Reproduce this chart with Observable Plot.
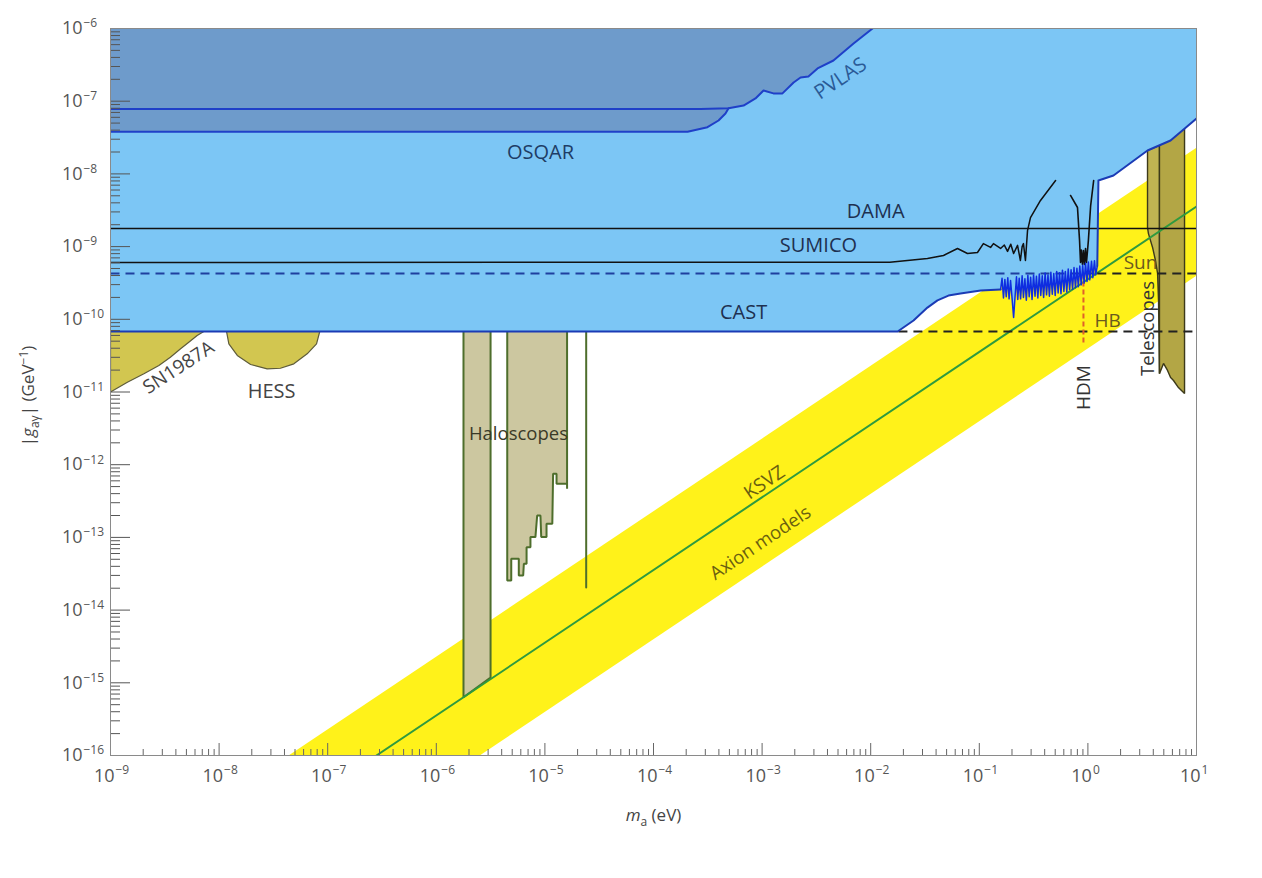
<!DOCTYPE html>
<html><head><meta charset="utf-8">
<script src="https://cdn.jsdelivr.net/npm/d3@7"></script>
<script src="https://cdn.jsdelivr.net/npm/@observablehq/plot@0.6"></script>
<style>
body{margin:0;background:#fff;}
#chart svg{display:block;}
</style></head><body><div id="chart"></div>
<script>
// ---- tick exponents ----
const xTickExponents = [-9,-8,-7,-6,-5,-4,-3,-2,-1,0,1];
const yTickExponents = [-16,-15,-14,-13,-12,-11,-10,-9,-8,-7,-6];

// ---- regions / limits: [mass (eV), |g| (GeV^-1)] ----
const axionBand = [[4.36e-8,1e-16],[10,2.30e-8],[10,3.98e-10],[2.51e-6,1e-16]];
const ksvz = [[2.81e-7,1e-16],[10,3.56e-9]];

const castSmooth = [[1e-9,6.8e-11],[1.77e-2,6.8e-11],[2.48e-2,9.62e-11],[3.33e-2,1.45e-10],[4.12e-2,1.82e-10],[5.20e-2,2.12e-10],[6.71e-2,2.26e-10],[1.03e-1,2.49e-10],[1.57e-1,2.57e-10]];
const castNoise = [[0.157,2.57e-10],[0.162,3.66e-10],[0.167,1.96e-10],[0.172,3.54e-10],[0.177,2.04e-10],[0.183,3.72e-10],[0.188,1.91e-10],[0.194,3.42e-10],[0.200,2.00e-10],[0.207,1.06e-10],[0.213,1.96e-10],[0.220,3.84e-10],[0.226,1.87e-10],[0.233,3.66e-10],[0.240,1.91e-10],[0.248,3.96e-10],[0.255,2.00e-10],[0.263,3.60e-10],[0.271,1.83e-10],[0.280,4.02e-10],[0.288,2.04e-10],[0.297,3.78e-10],[0.306,1.87e-10],[0.316,4.08e-10],[0.326,2.08e-10],[0.336,3.90e-10],[0.346,1.96e-10],[0.357,4.20e-10],[0.368,2.13e-10],[0.380,3.96e-10],[0.391,2.00e-10],[0.404,4.32e-10],[0.416,2.17e-10],[0.429,4.08e-10],[0.442,2.08e-10],[0.456,4.44e-10],[0.470,2.21e-10],[0.485,4.26e-10],[0.500,2.13e-10],[0.516,4.56e-10],[0.532,2.30e-10],[0.548,4.38e-10],[0.565,2.25e-10],[0.583,4.74e-10],[0.601,2.42e-10],[0.620,4.56e-10],[0.639,2.38e-10],[0.659,4.92e-10],[0.679,2.55e-10],[0.700,4.80e-10],[0.722,2.59e-10],[0.745,5.16e-10],[0.768,2.72e-10],[0.792,5.04e-10],[0.816,2.81e-10],[0.842,5.40e-10],[0.868,2.98e-10],[0.895,5.52e-10],[0.923,3.15e-10],[0.951,5.88e-10],[0.981,3.32e-10],[1.01,6.12e-10],[1.04,3.49e-10],[1.08,6.30e-10],[1.11,3.74e-10],[1.15,6.40e-10],[1.18,4.08e-10],[1.22,5.40e-10]];
const castHigh = [[1.22,5.40e-10],[1.25,8.11e-9],[1.72,9.51e-9],[3.54,2.10e-8],[5.77,2.88e-8],[10,5.78e-8]];

const osqar = [[1e-9,3.8e-8],[2.06e-4,3.8e-8],[3.14e-4,4.39e-8],[3.97e-4,5.43e-8],[4.60e-4,6.78e-8],[4.91e-4,8.0e-8]];
const pvlas = [[1e-9,7.8e-8],[2.71e-4,7.8e-8],[4.91e-4,8.0e-8],[6.75e-4,8.71e-8],[8.69e-4,1.09e-7],[1.03e-3,1.40e-7],[1.27e-3,1.28e-7],[1.54e-3,1.28e-7],[1.95e-3,1.81e-7],[2.26e-3,2.12e-7],[2.67e-3,2.19e-7],[3.24e-3,2.82e-7],[4.54e-3,3.63e-7],[6.95e-3,6.22e-7],[1.04e-2,1e-6]];

const dama = [[1e-9,1.77e-9],[10,1.77e-9]];
const sumico = [[1e-9,6.04e-10],[1.5e-2,6.1e-10],[3.33e-2,6.85e-10],[4.68e-2,7.55e-10],[6.30e-2,9.42e-10],[7.78e-2,8.04e-10],[9.62e-2,8.30e-10],[1.09e-1,1.10e-9],[1.27e-1,9.73e-10],[1.35e-1,1.10e-9],[1.57e-1,9.42e-10],[1.70e-1,1.05e-9],[1.82e-1,8.6e-10],[1.95e-1,1.08e-9],[2.07e-1,8.04e-10],[2.25e-1,1.04e-9],[2.39e-1,6.44e-10],[2.48e-1,1.0e-9],[2.55e-1,1.10e-9],[2.66e-1,6.44e-10],[2.78e-1,1.66e-9],[2.96e-1,2.51e-9],[3.66e-1,4.31e-9],[5.04e-1,8.11e-9]];
const sumicoHigh = [[6.92e-1,5.05e-9],[8.02e-1,3.45e-9],[8.38e-1,1.21e-9],[8.55e-1,6.04e-10],[8.70e-1,9.0e-10],[8.91e-1,5.7e-10],[9.10e-1,8.8e-10],[9.30e-1,5.68e-10],[9.51e-1,9.42e-10],[9.70e-1,6.04e-10],[9.90e-1,8.5e-10],[1.01,1.21e-9],[1.06,3.67e-9],[1.13,8.11e-9]];

const sunBlue = [[1e-9,4.27e-10],[1.22,4.27e-10]];
const sunBlack = [[1.22,4.27e-10],[10,4.27e-10]];
const hb = [[1.8e-2,6.8e-11],[10,6.8e-11]];
const hdm = [[0.91,4.27e-10],[0.91,4.6e-11]];

const sn1987a = [[1e-9,6.8e-11],[1e-9,1.0e-11],[1.43e-9,1.36e-11],[2.03e-9,1.78e-11],[2.79e-9,2.32e-11],[3.56e-9,3.01e-11],[4.42e-9,3.93e-11],[5.26e-9,4.84e-11],[6.28e-9,5.98e-11],[7.23e-9,6.8e-11]];
const hess = [[1.17e-8,6.8e-11],[1.23e-8,4.60e-11],[1.47e-8,3.18e-11],[1.95e-8,2.39e-11],[2.77e-8,2.08e-11],[3.67e-8,2.12e-11],[4.88e-8,2.44e-11],[6.47e-8,3.35e-11],[7.89e-8,4.60e-11],[8.45e-8,6.8e-11]];

const haloscopeA = [[1.78e-6,6.8e-11],[1.78e-6,6.32e-16],[3.16e-6,1.18e-15],[3.16e-6,6.8e-11]];
const haloscopeB = [[4.50e-6,6.8e-11],[4.50e-6,2.55e-14],[4.90e-6,2.55e-14],[4.90e-6,5.08e-14],[5.75e-6,5.08e-14],[5.75e-6,2.99e-14],[6.31e-6,2.99e-14],[6.40e-6,4.34e-14],[6.78e-6,4.34e-14],[6.78e-6,7.33e-14],[7.36e-6,7.33e-14],[7.36e-6,1.01e-13],[8.18e-6,1.01e-13],[8.49e-6,2.00e-13],[9.10e-6,2.00e-13],[9.25e-6,1.01e-13],[1.035e-5,1.01e-13],[1.035e-5,1.54e-13],[1.17e-5,1.54e-13],[1.19e-5,7.50e-13],[1.28e-5,7.50e-13],[1.28e-5,5.46e-13],[1.60e-5,5.46e-13],[1.60e-5,4.66e-13],[1.60e-5,6.8e-11]];
const haloscopeC = [[2.40e-5,6.8e-11],[2.40e-5,2.05e-14]];

const telescopesA = [[3.54,2.10e-8],[3.54,1.83e-9],[3.61,1.51e-9],[3.94,9.73e-10],[4.19,6.44e-10],[4.38,4.27e-10],[4.47,1.82e-10],[4.56,1.79e-11],[4.56,2.47e-8],[3.54,2.10e-8]];
const telescopesB = [[4.56,2.47e-8],[4.56,1.79e-11],[4.97,2.47e-11],[5.41,1.98e-11],[5.77,1.58e-11],[6.14,1.44e-11],[6.82,1.15e-11],[7.76,9.5e-12],[7.76,4.21e-8],[4.56,2.47e-8]];

const labels = [
  {text:"PVLAS", m:5.27e-3, g:2.05e-7, angle:-34, color:"#2a5a96", size:20},
  {text:"OSQAR", m:9.10e-6, g:1.97e-8, angle:0, color:"#1e3d66", size:20},
  {text:"DAMA", m:1.11e-2, g:3.04e-9, angle:0, color:"#1e3050", size:20},
  {text:"SUMICO", m:3.30e-3, g:1.04e-9, angle:0, color:"#1e3050", size:20},
  {text:"CAST", m:6.75e-4, g:1.24e-10, angle:0, color:"#1e3050", size:20},
  {text:"Sun", m:3.05, g:6.04e-10, angle:0, color:"#6a5a1e", size:19},
  {text:"HB", m:1.52, g:9.6e-11, angle:0, color:"#6a5a1e", size:19},
  {text:"HDM", m:0.912, g:1.15e-11, angle:-90, color:"#333333", size:19},
  {text:"Telescopes", m:3.61, g:7.48e-11, angle:-90, color:"#333333", size:18.5},
  {text:"SN1987A", m:4.23e-9, g:2.17e-11, angle:-33, color:"#444444", size:19},
  {text:"HESS", m:3.04e-8, g:1.02e-11, angle:0, color:"#444444", size:20},
  {text:"Haloscopes", m:5.71e-6, g:2.60e-12, angle:0, color:"#3a3a28", size:18.5},
  {text:"KSVZ", m:1.05e-3, g:5.69e-13, angle:-34, color:"#6a6010", size:19},
  {text:"Axion models", m:9.66e-4, g:8.36e-14, angle:-34, color:"#6a6010", size:18.5}
];

const yTitle = "|gaγ| (GeV−1)";
const xTitle = "ma (eV)";

// ---- helpers ----
const P = {x: d => d[0], y: d => d[1], clip: true};
const poly = (data, fill, stroke = "none", strokeWidth = 1) =>
  Plot.line(data, {...P, fill, stroke, strokeWidth, strokeLinejoin: "miter"});
const path = (data, stroke, strokeWidth, extra = {}) =>
  Plot.line(data, {...P, stroke, strokeWidth, ...extra});

const isDecade = v => Math.abs(Math.log10(v) - Math.round(Math.log10(v))) < 1e-9;
const xMinor = d3.scaleLog().domain([1e-9, 10]).ticks(40).filter(v => !isDecade(v));
const yMinor = d3.scaleLog().domain([1e-16, 1e-6]).ticks(40).filter(v => !isDecade(v));
const supers = e => (e < 0 ? "−" : "") + Math.abs(e);

const font = "'Open Sans', sans-serif";
const tickGray = "#555";

const plot = Plot.plot({
  width: 1262, height: 878,
  marginTop: 28, marginRight: 66, marginBottom: 123, marginLeft: 110,
  x: {type: "log", domain: [1e-9, 10]},
  y: {type: "log", domain: [1e-16, 1e-6]},
  color: {type: "identity"},
  style: {fontFamily: font, background: "white"},
  marks: [
    poly(axionBand, "#fff21a"),
    poly(sn1987a, "#d2c650", "#5e5c3a", 1.2),
    poly(hess, "#d2c650", "#5e5c3a", 1.2),
    poly(haloscopeA, "#ccc7a0", "#4e6e2c", 2),
    poly(haloscopeB, "#ccc7a0", "#4e6e2c", 2),
    path(haloscopeC, "#4e6e2c", 2),
    poly(telescopesA, "#c0b452", "#3d3a1a", 1.4),
    poly(telescopesB, "#b3a645", "#3d3a1a", 1.4),
    path(ksvz, "#2f9a3f", 2),
    poly([...castSmooth, ...castNoise, ...castHigh, [10,1e-6], [1e-9,1e-6]], "#7cc6f5"),
    poly([[1e-9,1e-6], ...osqar, ...pvlas.slice(3)], "#6e9bcb"),
    path(dama, "#111", 1.5),
    path(sumico, "#111", 1.5),
    path(sumicoHigh, "#111", 1.6),
    path(sunBlue, "#1f3f9f", 2, {strokeDasharray: "9,6", strokeLinecap: "butt"}),
    path(sunBlack, "#222", 2, {strokeDasharray: "9,6", strokeLinecap: "butt"}),
    path(hb, "#222", 2, {strokeDasharray: "9,6", strokeLinecap: "butt"}),
    path(hdm, "#e0602a", 2, {strokeDasharray: "5,3", strokeLinecap: "butt"}),
    path(castSmooth, "#1b3bb5", 2),
    path(castNoise, "#0f2de0", 1.5),
    path(castHigh, "#1b3bb5", 2),
    path(osqar, "#1f40c8", 2),
    path(pvlas, "#1f40c8", 2),
    Plot.text(labels, {x: "m", y: "g", text: "text", rotate: "angle", fill: "color", fontSize: "size",
      fontFamily: font, textAnchor: "middle", lineAnchor: "middle"}),
    // axes ticks
    Plot.axisX(xMinor, {anchor: "bottom", tickSize: -6, tickFormat: () => "", stroke: "#666", label: null}),
    Plot.axisX(xTickExponents.map(e => 10 ** e), {anchor: "bottom", tickSize: -12, tickFormat: () => "", stroke: "#666", label: null}),
    Plot.axisY(yMinor, {anchor: "left", tickSize: -10, tickFormat: () => "", stroke: "#555", label: null}),
    Plot.axisY(yTickExponents.map(e => 10 ** e), {anchor: "left", tickSize: -20, tickFormat: () => "", stroke: "#555", label: null}),
    // tick labels
    Plot.text(xTickExponents, {x: e => 10 ** e, frameAnchor: "bottom", text: () => "10", dy: 21, dx: 4,
      textAnchor: "end", lineAnchor: "middle", fontSize: 18, fill: tickGray, fontFamily: font}),
    Plot.text(xTickExponents, {x: e => 10 ** e, frameAnchor: "bottom", text: supers, dy: 15, dx: 5,
      textAnchor: "start", lineAnchor: "middle", fontSize: 12, fill: tickGray, fontFamily: font}),
    Plot.text(yTickExponents, {y: e => 10 ** e, frameAnchor: "left", text: () => "10", dx: -28,
      textAnchor: "end", lineAnchor: "middle", fontSize: 18, fill: tickGray, fontFamily: font}),
    Plot.text(yTickExponents, {y: e => 10 ** e, frameAnchor: "left", text: supers, dx: -27, dy: -5,
      textAnchor: "start", lineAnchor: "middle", fontSize: 12, fill: tickGray, fontFamily: font}),
    // axis titles
    Plot.text([yTitle], {frameAnchor: "left", dx: -82, dy: 4, rotate: -90, text: d => d,
      textAnchor: "middle", lineAnchor: "middle", fontSize: 17, fill: "#444", fontFamily: font}),
    Plot.text([xTitle], {frameAnchor: "bottom", dy: 60, text: d => d,
      textAnchor: "middle", lineAnchor: "middle", fontSize: 17, fill: "#444", fontFamily: font}),
    Plot.frame({stroke: "#8a8a8a", strokeWidth: 1})
  ]
});

// rich formatting for axis titles (italic, sub/superscripts)
d3.select(plot).selectAll("text").each(function() {
  const t = this.textContent;
  if (t === yTitle) {
    const s = d3.select(this); s.text("");
    s.append("tspan").text("|");
    s.append("tspan").attr("font-style", "italic").text("g");
    s.append("tspan").attr("font-size", 12).attr("dy", 5).text("aγ");
    s.append("tspan").attr("dy", -5).text("| (GeV");
    s.append("tspan").attr("font-size", 12).attr("dy", -6).text("−1");
    s.append("tspan").attr("dy", 6).text(")");
  } else if (t === xTitle) {
    const s = d3.select(this); s.text("");
    s.append("tspan").attr("font-style", "italic").text("m");
    s.append("tspan").attr("font-size", 12).attr("dy", 5).text("a");
    s.append("tspan").attr("dy", -5).text(" (eV)");
  }
});

document.getElementById("chart").appendChild(plot);
</script></body></html>
